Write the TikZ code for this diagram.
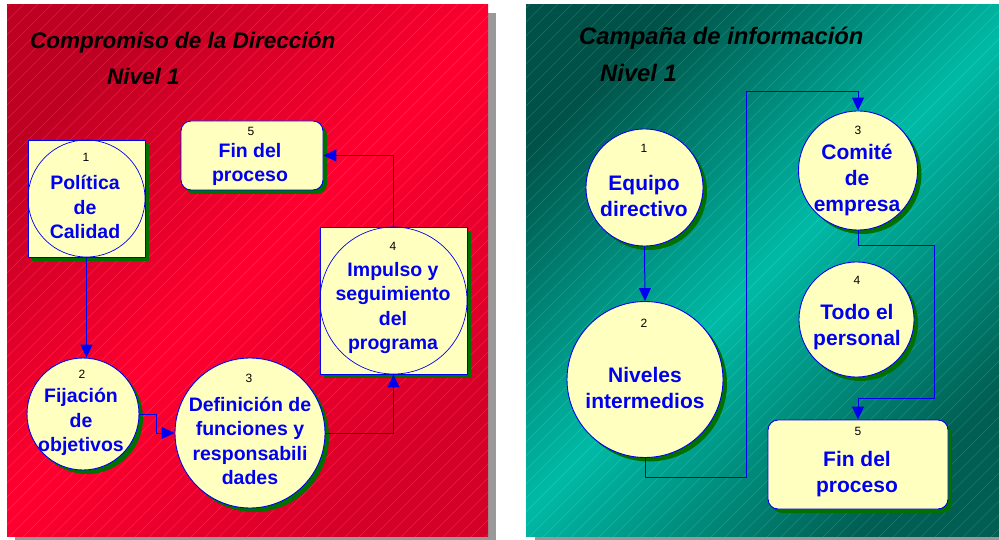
\documentclass[tikz,border=0pt]{standalone}
\usepackage{fontspec}
\setmainfont{Liberation Sans}
\usetikzlibrary{arrows.meta,shadows}
\definecolor{rdark}{RGB}{190,0,34}
\definecolor{rlight}{RGB}{255,0,48}
\definecolor{rdark2}{RGB}{212,0,40}
\definecolor{tdark}{RGB}{0,82,72}
\definecolor{tlight}{RGB}{0,186,166}
\definecolor{tdark2}{RGB}{0,94,82}
\definecolor{cream}{RGB}{255,255,192}
\definecolor{shgreen}{RGB}{0,112,0}
\definecolor{fgblue}{RGB}{0,0,240}
\pgfdeclarehorizontalshading{redpanel}{100bp}{color(0bp)=(rdark); color(25bp)=(rdark); color(50bp)=(rlight); color(75bp)=(rdark2); color(100bp)=(rdark2)}
\pgfdeclarehorizontalshading{tealpanel}{100bp}{color(0bp)=(tdark); color(25bp)=(tdark); color(50bp)=(tlight); color(75bp)=(tdark2); color(100bp)=(tdark2)}
\begin{document}
\begin{tikzpicture}[x=1pt, y=-1pt,
  proc/.style={circle, draw=fgblue, fill=cream, line width=0.9pt, inner sep=0pt,
    drop shadow={shadow xshift=4pt, shadow yshift=-4pt, fill=shgreen, opacity=1}},
  sqr/.style={rectangle, draw=fgblue, fill=cream, line width=0.9pt, inner sep=0pt,
    drop shadow={shadow xshift=4pt, shadow yshift=-4pt, fill=shgreen, opacity=1}},
  inring/.style={circle, draw=fgblue, line width=0.7pt, inner sep=0pt},
  endbox/.style={rectangle, rounded corners=10pt, draw=fgblue, fill=cream, line width=0.9pt, inner sep=0pt,
    drop shadow={shadow xshift=4pt, shadow yshift=-4pt, fill=shgreen, opacity=1}},
  num/.style={font=\fontsize{12}{12}\selectfont, inner sep=0pt},
  lbl/.style={text=fgblue, font=\bfseries\fontsize{19.5}{24.5}\selectfont, align=center, inner sep=0pt},
  lblr/.style={text=fgblue, font=\bfseries\fontsize{21}{26}\selectfont, align=center, inner sep=0pt},
  ttl/.style={font=\bfseries\itshape\fontsize{22.5}{22.5}\selectfont, anchor=base west, inner sep=0pt},
  ttlr/.style={ttl, font=\bfseries\itshape\fontsize{23.8}{23.8}\selectfont},
  flow/.style={draw=fgblue, line width=1pt, -{Triangle[length=13pt,width=12pt,fill=fgblue]}},
  hatch/.style={white, opacity=0.15, line width=0.5pt}]
\useasboundingbox (0,0) rectangle (999,540);
\clip (0,0) rectangle (999,540);
\fill[white] (0,0) rectangle (999,540);

\fill[gray!80] (15,13) rectangle (496,548);
\shade[shading=redpanel, shading angle=-45] (7,5) rectangle (488,536);
\begin{scope}
\clip (7,5) rectangle (488,536);
\foreach \i in {-540,-526,...,500} {
    \draw[hatch] (\i,540) -- ++(540,-540);
}
\end{scope}
\fill[gray!80] (535,13) rectangle (1010,548);
\shade[shading=tealpanel, shading angle=-45] (526,5) rectangle (1005,536);
\begin{scope}
\clip (526,5) rectangle (1005,536);
\foreach \i in {-20,-6,...,1010} {
    \draw[hatch] (\i,540) -- ++(540,-540);
}
\end{scope}

\node[ttl] (tl1) at (30,49) {Compromiso de la Dirección};
\node[ttl] (tl2) at (107,85) {Nivel 1};
\node[ttlr] (tr1) at (579,45) {Campaña de información};
\node[ttlr] (tr2) at (600,81.5) {Nivel 1};

\node[sqr, minimum size=117pt] (L1) at (86.5,198.5) {};
\node[inring, minimum size=117pt] (L1c) at (L1.center) {};
\node[proc, minimum size=112pt] (L2) at (83,414) {};
\node[proc, minimum size=150pt] (L3) at (250,433) {};
\node[sqr, minimum size=147pt] (L4) at (393.5,300.5) {};
\node[inring, minimum size=147pt] (L4c) at (L4.center) {};
\node[endbox, minimum width=142pt, minimum height=69pt] (L5) at (252,155.5) {};

\node[num] (L1n) at (86,157) {1};
\node[lbl] (L1t) at (85,207) {Política\\de\\Calidad};
\node[num] (L2n) at (82,374) {2};
\node[lbl] (L2t) at (81,422) {Fijación\\de\\objetivos};
\node[num] (L3n) at (249,378) {3};
\node[lbl] (L3t) at (250,441) {Definición de\\funciones y\\responsabili\\dades};
\node[num] (L4n) at (393,246) {4};
\node[lbl] (L4t) at (393,308) {Impulso y\\seguimiento\\del\\programa};
\node[num] (L5n) at (251,131) {5};
\node[lbl] (L5t) at (250,164.5) {Fin del\\proceso};

\draw[flow] (L1.south) -- (L1.south |- L2.north);
\draw[flow] (L2.east) -- ++(17,0) |- (L3.west);
\draw[flow] (L3.east) -| (L4.south);
\draw[flow] (L4.north) |- (L5.east);

\node[proc, minimum size=117pt] (R1) at (644.5,187.5) {};
\node[proc, minimum size=156pt] (R2) at (645,379.5) {};
\node[proc, minimum size=119pt] (R3) at (858,170.5) {};
\node[proc, minimum size=115pt] (R4) at (856.5,319.5) {};
\node[endbox, minimum width=180pt, minimum height=89pt] (R5) at (858,464.5) {};

\node[num] (R1n) at (644,148) {1};
\node[lblr] (R1t) at (644,196) {Equipo\\directivo};
\node[num] (R2n) at (644,323) {2};
\node[lblr] (R2t) at (645,387.5) {Niveles\\intermedios};
\node[num] (R3n) at (858,130) {3};
\node[lblr] (R3t) at (857,179.5) {Comité\\de\\empresa};
\node[num] (R4n) at (857,280) {4};
\node[lblr] (R4t) at (857,327) {Todo el\\personal};
\node[num] (R5n) at (858,431) {5};
\node[lblr] (R5t) at (857,474) {Fin del\\proceso};

\coordinate (k1) at (746,477);
\coordinate (k2) at (746,92);
\coordinate (k3) at (934,246);
\coordinate (k4) at (934,398);
\draw[flow] (R1.south) -- (R2.north);
\draw[flow] (R2.south) |- (k1) -- (k2) -| (R3.north);
\draw[flow] (R3.south) |- (k3) -- (k4) -| (R5.north);
\end{tikzpicture}
\end{document}
